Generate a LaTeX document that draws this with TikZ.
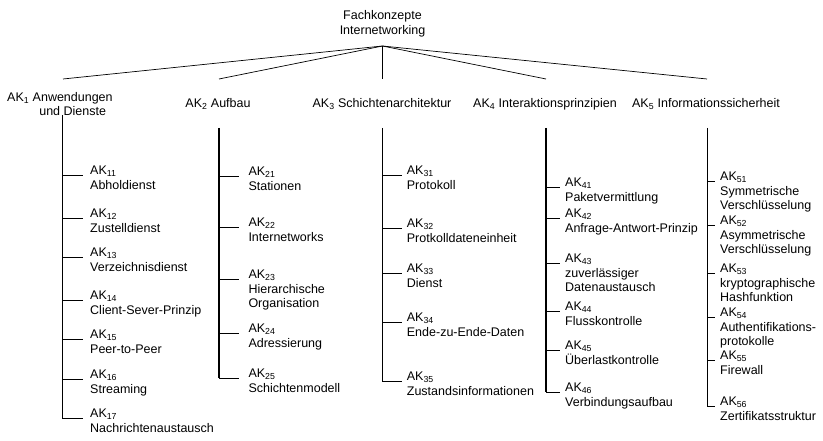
\documentclass[tikz,border=0pt]{standalone}
\usepackage{fontspec}
\setmainfont{Liberation Sans}

% one leaf of the concept tree: name, spine coordinate, twig end x, text x, twig y, description
\newcommand\akitem[6]{%
  \coordinate (ak#1-t) at (#3,#5);
  \node[item] (ak#1) at (#4,#5-9.5) {\rule{0pt}{9pt}AK\textsubscript{#1}\\#6};
  \draw[twig] (#2 |- ak#1-t) -- (ak#1-t);
}

\begin{document}
\begin{tikzpicture}[x=1pt,y=-1pt,
  txt/.style={inner sep=0pt, font=\fontsize{12.5}{14.5}\selectfont},
  item/.style={txt, align=left, anchor=north west},
  head/.style={txt, anchor=base},
  fan/.style={line width=0.7pt},
  spine/.style={line width=1.1pt},
  twig/.style={line width=0.7pt}]
\useasboundingbox (0,0) rectangle (823,441);

% root concept
\node[txt, align=center, anchor=north] (root) at (382.5,10.5)
  {\rule{0pt}{9pt}Fachkonzepte\\Internetworking};
\coordinate (hub) at (382.5,46);

% the five concept areas
\node[txt, anchor=base west] (h1) at (7,102)
  {AK\textsubscript{1} \renewcommand\arraystretch{0.9}\begin{tabular}[t]{@{}c@{}}Anwendungen\\und Dienste\end{tabular}};
\node[head] (h2) at (218,108) {AK\textsubscript{2} Aufbau};
\node[head] (h3) at (382,108) {AK\textsubscript{3} Schichtenarchitektur};
\node[head] (h4) at (545,108) {AK\textsubscript{4} Interaktionsprinzipien};
\node[head] (h5) at (706,108) {AK\textsubscript{5} Informationssicherheit};

\coordinate (f1) at (63,79);
\coordinate (f2) at (219,79);
\coordinate (f3) at (382.5,79);
\coordinate (f4) at (546,79);
\coordinate (f5) at (707,79);
\foreach \k in {1,...,5} \draw[fan] (hub) -- (f\k);

% spines below the areas
\coordinate (s1) at (62.3,115);
\coordinate (s2) at (219,128);
\coordinate (s3) at (382.3,128);
\coordinate (s4) at (546,128);
\coordinate (s5) at (707.3,128);

% AK1
\akitem{11}{s1}{83.3}{90}{175}{Abholdienst}
\akitem{12}{s1}{83.3}{90}{218}{Zustelldienst}
\akitem{13}{s1}{83.3}{90}{257}{Verzeichnisdienst}
\akitem{14}{s1}{83.3}{90}{300}{Client-Sever-Prinzip}
\akitem{15}{s1}{83.3}{90}{339}{Peer-to-Peer}
\akitem{16}{s1}{83.3}{90}{379}{Streaming}
\akitem{17}{s1}{83.3}{90}{418}{Nachrichtenaustausch}
\draw[spine] (s1) -- (s1 |- ak17-t);

% AK2
\akitem{21}{s2}{239.3}{248.3}{176}{Stationen}
\akitem{22}{s2}{239.3}{248.3}{227}{Internetworks}
\akitem{23}{s2}{239.3}{248.3}{279}{Hierarchische\\Organisation}
\akitem{24}{s2}{239.3}{248.3}{333}{Adressierung}
\akitem{25}{s2}{239.3}{248.3}{378}{Schichtenmodell}
\draw[spine] (s2) -- (s2 |- ak25-t);

% AK3
\akitem{31}{s3}{401.7}{406.7}{175}{Protokoll}
\akitem{32}{s3}{401.7}{406.7}{228}{Protkolldateneinheit}
\akitem{33}{s3}{401.7}{406.7}{273}{Dienst}
\akitem{34}{s3}{401.7}{406.7}{322}{Ende-zu-Ende-Daten}
\akitem{35}{s3}{401.7}{406.7}{381}{Zustandsinformationen}
\draw[spine] (s3) -- (s3 |- ak35-t);

% AK4
\akitem{41}{s4}{560}{565}{187}{Paketvermittlung}
\akitem{42}{s4}{560}{565}{218}{Anfrage-Antwort-Prinzip}
\akitem{43}{s4}{560}{565}{263}{zuverlässiger\\Datenaustausch}
\akitem{44}{s4}{560}{565}{311}{Flusskontrolle}
\akitem{45}{s4}{560}{565}{350}{Überlastkontrolle}
\akitem{46}{s4}{560}{565}{392}{Verbindungsaufbau}
\draw[spine] (s4) -- (s4 |- ak46-t);

% AK5
\akitem{51}{s5}{715}{720}{181}{Symmetrische\\Verschlüsselung}
\akitem{52}{s5}{715}{720}{225}{Asymmetrische\\Verschlüsselung}
\akitem{53}{s5}{715}{720}{273}{kryptographische\\Hashfunktion}
\akitem{54}{s5}{715}{720}{317}{Authentifikations-\\protokolle}
\akitem{55}{s5}{715}{720}{360}{Firewall}
\akitem{56}{s5}{715}{720}{406}{Zertifikatsstruktur}
\draw[spine] (s5) -- (s5 |- ak56-t);
\end{tikzpicture}
\end{document}
